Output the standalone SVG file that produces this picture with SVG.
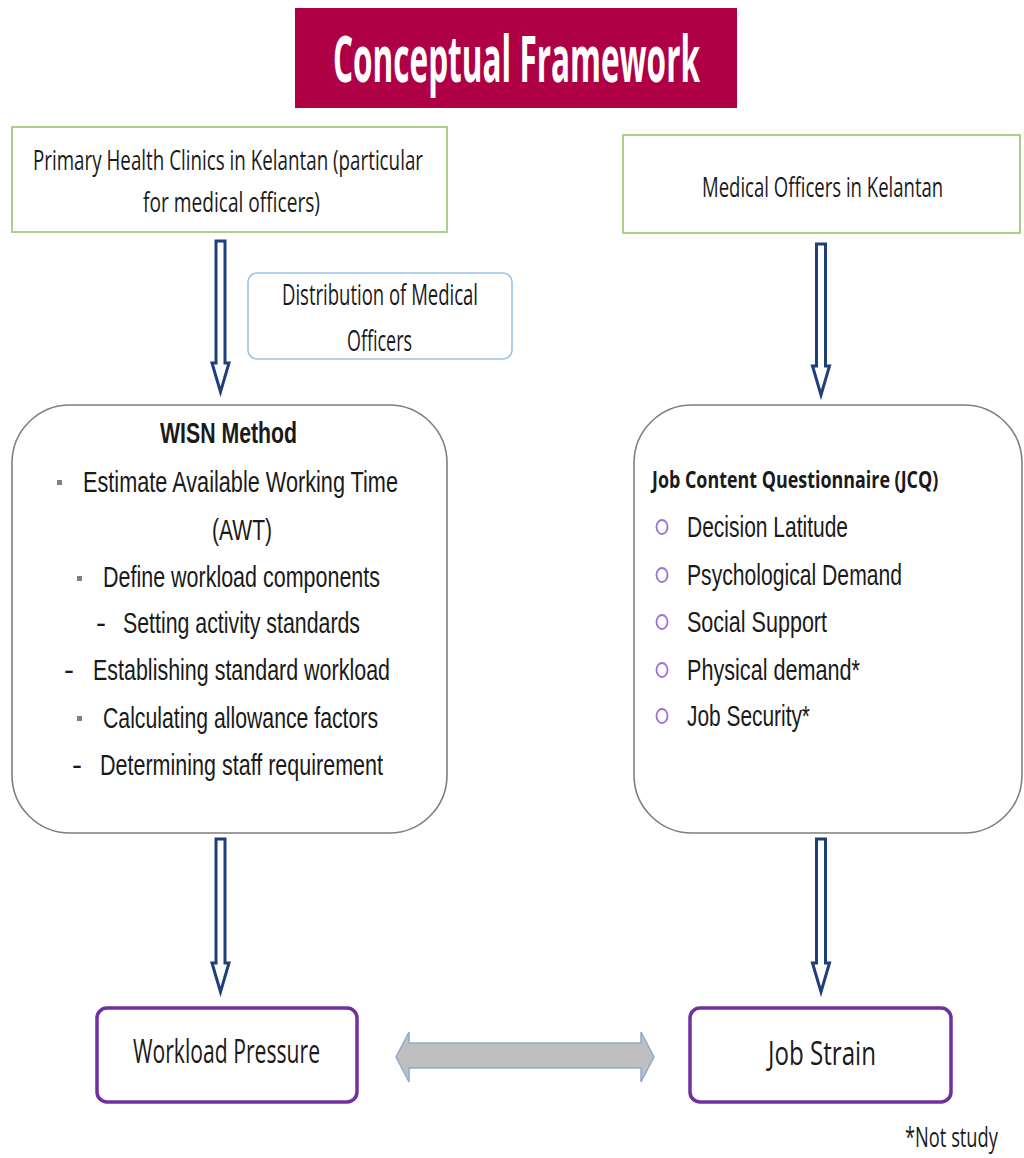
<svg xmlns="http://www.w3.org/2000/svg" width="1024" height="1158" viewBox="0 0 1024 1158">
<style>
.cal{font-family:"Open Sans","Noto Sans","Liberation Sans",sans-serif;fill:#1a1a1a}
.ari{font-family:"Liberation Sans",Arial,sans-serif;fill:#1a1a1a}
.green{fill:#fff;stroke:#a9d18e;stroke-width:2}
.round{fill:#fff;stroke:#7f7f7f;stroke-width:1.6}
.purple{fill:#fff;stroke:#7030a0;stroke-width:3.5}
.blk{fill:#fff;stroke:#1f3f7b;stroke-width:3;stroke-linejoin:miter}
.bul{fill:#fff;stroke:#a070d0;stroke-width:1.8}
.sq{fill:#808080}
</style>
<rect width="1024" height="1158" fill="#fff"/>

<g id="title">
<rect x="295" y="8" width="442" height="100" fill="#af0045"/>
<text transform="translate(333,82) scale(0.5,1)" x="0" y="0" font-size="64" font-weight="bold" fill="#fff" style="font-family:'Open Sans','Noto Sans',sans-serif" textLength="734" lengthAdjust="spacingAndGlyphs">Conceptual Framework</text>
</g>

<g id="primary-health-clinics">
<rect class="green" x="12" y="127" width="435" height="105"/>
<text class="cal" x="33" y="170" font-size="27" textLength="390" lengthAdjust="spacingAndGlyphs">Primary Health Clinics in Kelantan (particular</text>
<text class="cal" x="143" y="212" font-size="27" textLength="177" lengthAdjust="spacingAndGlyphs">for medical officers)</text>
</g>

<g id="medical-officers">
<rect class="green" x="623" y="135" width="397" height="98"/>
<text class="cal" transform="translate(702,197) scale(0.6,1)" x="0" y="0" font-size="27" textLength="402" lengthAdjust="spacingAndGlyphs">Medical Officers in Kelantan</text>
</g>

<g id="distribution">
<rect x="248" y="273" width="264" height="86" rx="9" fill="#fff" stroke="#9dc3e6" stroke-width="1.6"/>
<text class="cal" x="282" y="305" font-size="30" textLength="196" lengthAdjust="spacingAndGlyphs">Distribution of Medical</text>
<text class="cal" x="347" y="351" font-size="30" textLength="65" lengthAdjust="spacingAndGlyphs">Officers</text>
</g>

<g id="wisn-method">
<rect class="round" x="12" y="405" width="435" height="428" rx="58"/>
<text class="ari" x="160" y="443" font-size="30" font-weight="bold" textLength="137" lengthAdjust="spacingAndGlyphs">WISN Method</text>
<rect class="sq" x="57" y="480" width="5" height="5"/>
<text class="ari" x="83" y="492" font-size="30" textLength="315" lengthAdjust="spacingAndGlyphs">Estimate Available Working Time</text>
<text class="ari" x="212" y="540" font-size="30" textLength="60" lengthAdjust="spacingAndGlyphs">(AWT)</text>
<rect class="sq" x="77" y="576" width="5" height="5"/>
<text class="ari" x="103" y="587" font-size="30" textLength="277" lengthAdjust="spacingAndGlyphs">Define workload components</text>
<text class="ari" x="96" y="633" font-size="30">-</text>
<text class="ari" x="123" y="633" font-size="30" textLength="237" lengthAdjust="spacingAndGlyphs">Setting activity  standards</text>
<text class="ari" x="64" y="680" font-size="30">-</text>
<text class="ari" x="93" y="680" font-size="30" textLength="297" lengthAdjust="spacingAndGlyphs">Establishing standard  workload</text>
<rect class="sq" x="77" y="716" width="5" height="5"/>
<text class="ari" x="103" y="728" font-size="30" textLength="275" lengthAdjust="spacingAndGlyphs">Calculating allowance factors</text>
<text class="ari" x="72" y="775" font-size="30">-</text>
<text class="ari" x="100" y="775" font-size="30" textLength="283" lengthAdjust="spacingAndGlyphs">Determining staff  requirement</text>
</g>

<g id="jcq">
<rect class="round" x="634" y="405" width="388" height="428" rx="58"/>
<text class="cal" transform="translate(652,488) scale(0.7,1)" x="0" y="0" font-size="23" font-weight="bold" textLength="409" lengthAdjust="spacingAndGlyphs">Job Content Questionnaire (JCQ)</text>
<ellipse class="bul" cx="662" cy="527" rx="5.5" ry="7"/>
<text class="ari" x="687" y="537" font-size="30" textLength="161" lengthAdjust="spacingAndGlyphs">Decision Latitude</text>
<ellipse class="bul" cx="662" cy="575" rx="5.5" ry="7"/>
<text class="ari" x="687" y="585" font-size="30" textLength="215" lengthAdjust="spacingAndGlyphs">Psychological Demand</text>
<ellipse class="bul" cx="662" cy="622" rx="5.5" ry="7"/>
<text class="ari" x="687" y="632" font-size="30" textLength="140" lengthAdjust="spacingAndGlyphs">Social Support</text>
<ellipse class="bul" cx="662" cy="670" rx="5.5" ry="7"/>
<text class="ari" x="687" y="680" font-size="30" textLength="173" lengthAdjust="spacingAndGlyphs">Physical demand*</text>
<ellipse class="bul" cx="662" cy="716" rx="5.5" ry="7"/>
<text class="ari" x="687" y="726" font-size="30" textLength="123" lengthAdjust="spacingAndGlyphs">Job Security*</text>
</g>

<g id="workload-pressure">
<rect class="purple" x="97" y="1008" width="260" height="94" rx="10"/>
<text class="cal" x="133" y="1063" font-size="32" textLength="187" lengthAdjust="spacingAndGlyphs">Workload Pressure</text>
</g>

<g id="job-strain">
<rect class="purple" x="690" y="1008" width="261" height="94" rx="10"/>
<text class="cal" x="768" y="1065" font-size="32" textLength="108" lengthAdjust="spacingAndGlyphs">Job Strain</text>
</g>

<g id="connectors">
<path class="blk" d="M216,241 H225 V363 H229 L220.5,392 L212,363 H216 Z"/>
<path class="blk" d="M816.5,244 H825.5 V366 H829.5 L821,395 L812.5,366 H816.5 Z"/>
<path class="blk" d="M216,839 H225 V963 H229 L220.5,992 L212,963 H216 Z"/>
<path class="blk" d="M816.5,839 H825.5 V963 H829.5 L821,992 L812.5,963 H816.5 Z"/>
<path d="M396,1057 L409,1032 V1043 H641 V1032 L654,1057 L641,1082 V1068 H409 V1082 Z" fill="#bfbfbf" stroke="#8faad0" stroke-width="1.5"/>
</g>

<text class="cal" transform="translate(905,1147) scale(0.65,1)" x="0" y="0" font-size="28" textLength="143" lengthAdjust="spacingAndGlyphs">*Not study</text>
</svg>
